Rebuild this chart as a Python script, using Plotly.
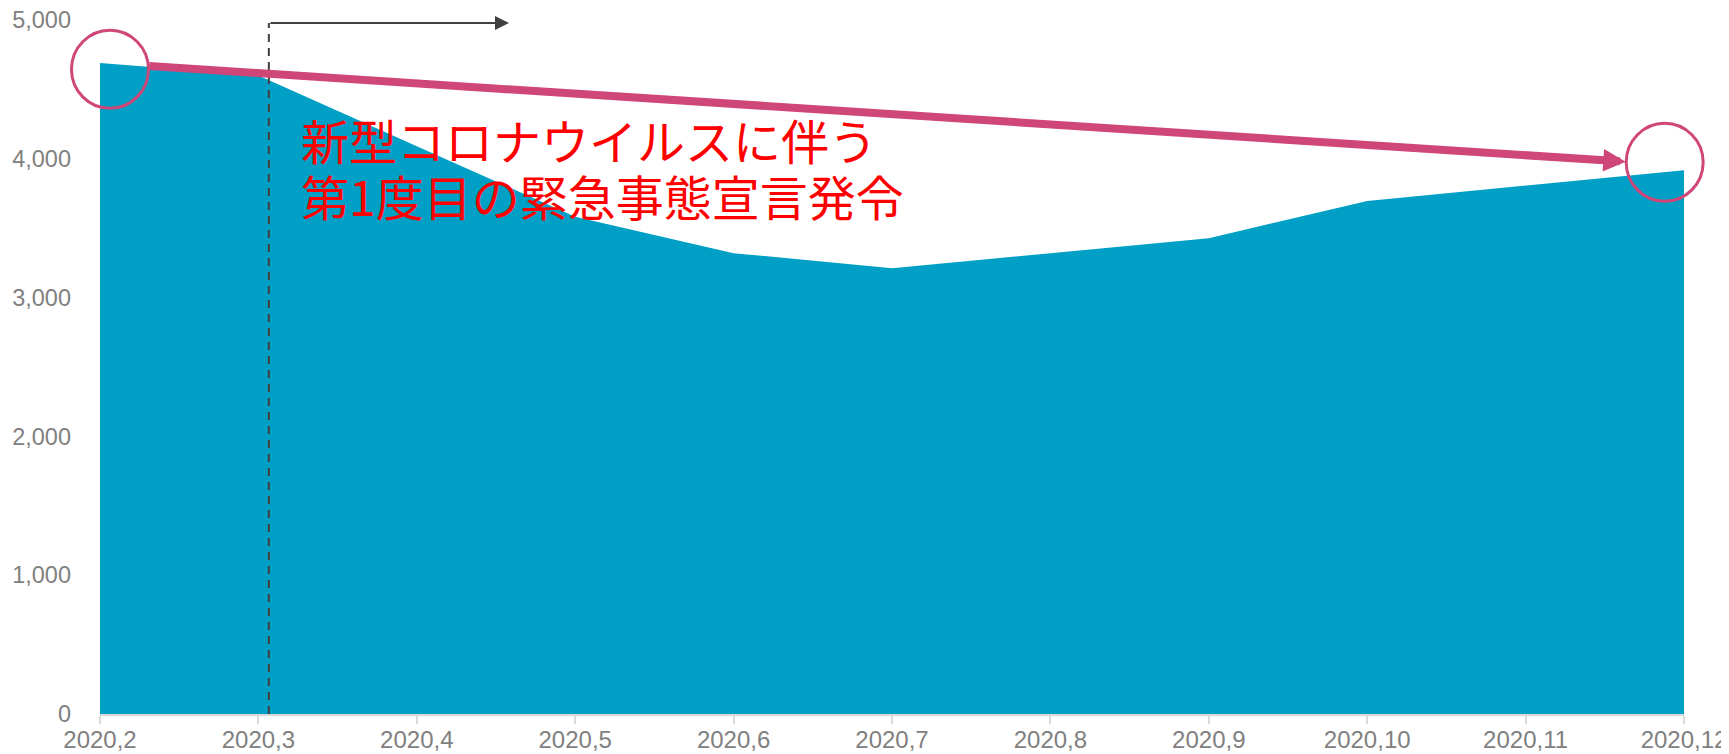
import plotly.graph_objects as go

categories = ["2020,2", "2020,3", "2020,4", "2020,5", "2020,6", "2020,7",
              "2020,8", "2020,9", "2020,10", "2020,11", "2020,12"]
values = [4690, 4600, 4090, 3583, 3320, 3212, 3320, 3428, 3696, 3807, 3918]
y_ticks = [0, 1000, 2000, 3000, 4000, 5000]
y_ticktext = ["0", "1,000", "2,000", "3,000", "4,000", "5,000"]
note_lines = ["新型コロナウイルスに伴う", "第1度目の緊急事態宣言発令"]

AREA = "#00A0C6"
PINK = "#CF4679"
DARK = "#404040"
GRAY = "#808080"

xi = list(range(len(categories)))
X_MAX = len(categories) - 1
Y_MAX = 5000

fig = go.Figure()
fig.add_trace(go.Scatter(
    x=xi, y=values, mode="lines", fill="tozeroy",
    line=dict(width=0, color=AREA), fillcolor=AREA,
    hoverinfo="skip", showlegend=False,
))

# dashed marker line at start of emergency declaration
x_decl = 1.066
fig.add_shape(type="line", xref="x", yref="y", x0=x_decl, x1=x_decl, y0=0, y1=4978,
              line=dict(color=DARK, width=2, dash="8px,6px"))
# dark horizontal arrow
fig.add_annotation(x=2.582, y=4978, ax=x_decl, ay=4978, xref="x", yref="y",
                   axref="x", ayref="y", text="", showarrow=True,
                   arrowhead=2, arrowsize=1.4, arrowwidth=2, arrowcolor=DARK,
                   standoff=0, startstandoff=0)

# pink trend arrow
fig.add_annotation(x=9.632, y=3979, ax=0.301, ay=4669, xref="x", yref="y",
                   axref="x", ayref="y", text="", showarrow=True,
                   arrowhead=2, arrowsize=0.56, arrowwidth=8, arrowcolor=PINK,
                   standoff=0, startstandoff=0)

# circles (paper refs so they are not clipped by the plot area)
for cx, cy in [(0.063, 4645), (9.878, 3975)]:
    fig.add_shape(type="circle", xref="paper", yref="paper",
                  xsizemode="pixel", ysizemode="pixel",
                  xanchor=cx / X_MAX, yanchor=cy / Y_MAX,
                  x0=-38.5, x1=38.5, y0=-39, y1=39,
                  line=dict(color=PINK, width=3))

# note text
for txt, ty in zip(note_lines, [4143, 3739]):
    fig.add_annotation(x=1.262, y=ty, xref="x", yref="y", text=txt, showarrow=False,
                       xanchor="left", yanchor="middle", borderpad=0,
                       font=dict(family="Noto Sans CJK JP", size=48, color="#FF0000"))

# the page body has an 8px margin, so the figure is sized/offset to compensate
fig.update_layout(
    width=1721, height=746,
    margin=dict(l=92, r=45, t=12, b=40),
    paper_bgcolor="white", plot_bgcolor="white",
    font=dict(family="Liberation Sans, Arial, sans-serif", size=24, color=GRAY),
    showlegend=False,
)
fig.update_xaxes(
    range=[0, X_MAX], tickmode="array", tickvals=xi, ticktext=categories,
    showgrid=False, zeroline=False, showline=True, linecolor="#D9D9D9", linewidth=2,
    ticks="outside", ticklen=8, tickcolor="#D9D9D9", tickwidth=1.5,
    ticklabelstandoff=-5, automargin=False, ticklabeloverflow="allow",
    tickfont=dict(size=24, color=GRAY),
)
fig.update_yaxes(
    range=[0, Y_MAX], tickmode="array", tickvals=y_ticks, ticktext=y_ticktext,
    showgrid=False, zeroline=False, showline=False, ticks="",
    ticklabelstandoff=28, automargin=False, ticklabeloverflow="allow",
    tickfont=dict(size=23.5, color=GRAY),
)

fig.write_html("out.html")
